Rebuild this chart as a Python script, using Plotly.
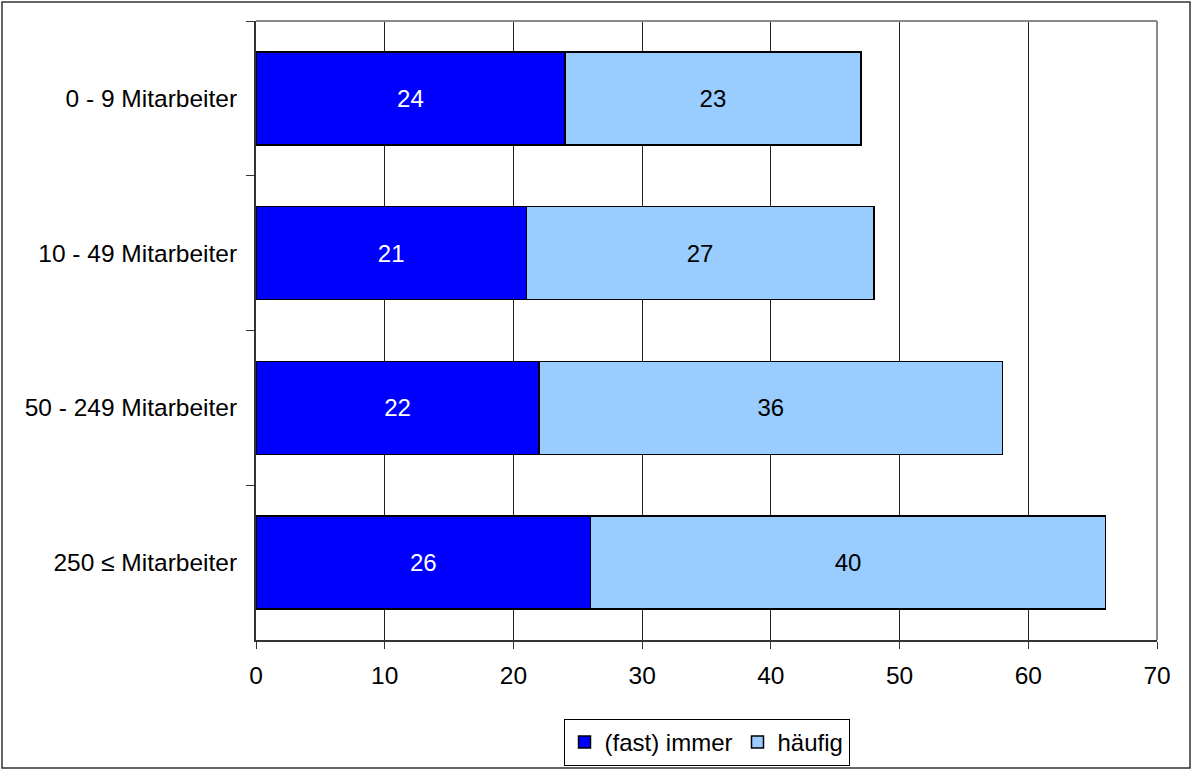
import plotly.graph_objects as go

categories = ["0 - 9 Mitarbeiter", "10 - 49 Mitarbeiter", "50 - 249 Mitarbeiter", "250 ≤ Mitarbeiter"]
fast_immer = [24, 21, 22, 26]
haeufig = [23, 27, 36, 40]
x_ticks = [0, 10, 20, 30, 40, 50, 60, 70]

W, H = 1192, 771
EXTRA = 8
ml, mr, mt, mb = 256, 35, 21, 131
pw, ph = W - ml - mr, H - mt - mb
FS = 24.5
FONT = "Liberation Sans, Arial"

fig = go.Figure()
fig.add_trace(go.Bar(
    y=categories, x=fast_immer, name="(fast) immer", orientation="h",
    marker=dict(color="#0000FF", line=dict(color="black", width=1.5)),
    text=[str(v) for v in fast_immer], textposition="inside", insidetextanchor="middle",
    textfont=dict(color="white", size=24, family=FONT),
))
fig.add_trace(go.Bar(
    y=categories, x=haeufig, name="häufig", orientation="h",
    marker=dict(color="#99CCFF", line=dict(color="black", width=1.5)),
    text=[str(v) for v in haeufig], textposition="inside", insidetextanchor="middle",
    textfont=dict(color="black", size=24, family=FONT),
))

def px2paper_x(p):
    return (p - ml) / pw

def px2paper_y(p):
    return 1 - (p - mt) / ph

fig.update_layout(
    width=W, height=H + EXTRA, autosize=False,
    margin=dict(l=ml, r=mr, t=mt, b=mb + EXTRA),
    barmode="stack", bargap=0.4,
    plot_bgcolor="white", paper_bgcolor="white",
    font=dict(family=FONT, size=FS, color="black"),
    showlegend=True,
    legend=dict(orientation="h", x=0.5, xanchor="center", y=px2paper_y(719), yanchor="top",
                bordercolor="black", borderwidth=1, font=dict(size=24),
                traceorder="normal", itemwidth=30, tracegroupgap=0),
    xaxis=dict(range=[0, 70], tickvals=x_ticks, showgrid=True, gridcolor="#222222", gridwidth=1,
               showline=True, linecolor="#333333", linewidth=2, ticks="outside", ticklen=7,
               tickcolor="#333333", zeroline=False, fixedrange=True, ticklabelstandoff=6),
    yaxis=dict(autorange="reversed", showline=True, linecolor="#333333", linewidth=2,
               ticks="outside", ticklen=8, tickcolor="#333333", tickson="boundaries",
               ticklabelstandoff=12, showgrid=False),
    shapes=[
        dict(type="line", xref="paper", yref="paper", x0=0, x1=1, y0=1, y1=1,
             line=dict(color="#888888", width=2)),
        dict(type="line", xref="paper", yref="paper", x0=1, x1=1, y0=0, y1=1,
             line=dict(color="#888888", width=2)),
        dict(type="rect", xref="paper", yref="paper",
             x0=px2paper_x(2), x1=px2paper_x(1190), y0=px2paper_y(768), y1=px2paper_y(2),
             line=dict(color="#333333", width=1.5), layer="below"),
    ],
)

fig.write_html("out.html", config={"displayModeBar": False},
               post_script="document.documentElement.style.margin='0';document.body.style.margin='0';document.body.style.padding='0';")
